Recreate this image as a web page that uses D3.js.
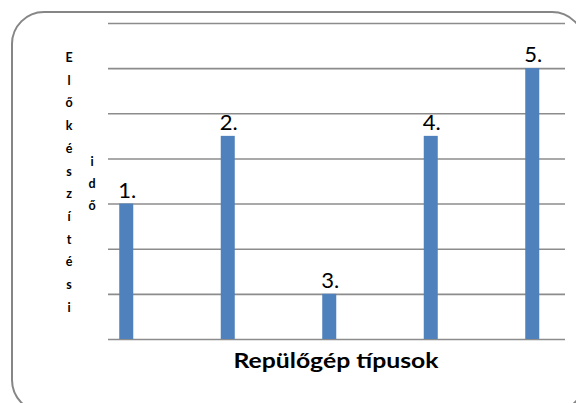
<!DOCTYPE html>
<html><head><meta charset="utf-8">
<script src="https://cdn.jsdelivr.net/npm/d3@7"></script>
<style>body{margin:0;background:#fff}svg{display:block}</style>
</head><body>
<svg id="c" width="576" height="403"></svg>
<script>
const categories = ["1.", "2.", "3.", "4.", "5."];
const values = [3, 4.5, 1, 4.5, 6];
const yTicks = [0, 1, 2, 3, 4, 5, 6, 7];
const yTitleCol1 = "Előkészítési";
const yTitleCol2 = "idő";
const xTitle = "Repülőgép típusok";

const svg = d3.select("#c");
svg.append("rect").attr("x", 12).attr("y", 12).attr("width", 572).attr("height", 400)
  .attr("rx", 32).attr("ry", 32).attr("fill", "#fff").attr("stroke", "#868686").attr("stroke-width", 2);

const gridLeft = 108, gridRight = 565;
const y = d3.scaleLinear().domain([0, 7]).range([339, 23]);
const x = d3.scaleBand().domain(categories).range([75.5, 583]).paddingInner(0.862).paddingOuter(0.431);

const ga = svg.append("g").attr("transform", `translate(${gridLeft},0)`)
  .call(d3.axisLeft(y).tickValues(yTicks).tickSize(-(gridRight - gridLeft)).tickFormat(""));
ga.select(".domain").remove();
ga.selectAll(".tick line").attr("stroke", "#8c8c8c").attr("stroke-width", 1.6);

svg.append("g").selectAll("rect").data(values).join("rect")
  .attr("x", (d, i) => x(categories[i]))
  .attr("width", x.bandwidth())
  .attr("y", d => y(d)).attr("height", d => y(0) - y(d))
  .attr("fill", "#4F81BD");

svg.append("g").selectAll("text").data(values).join("text")
  .attr("x", (d, i) => x(categories[i]) + x.bandwidth() / 2 + 1)
  .attr("y", d => y(d) - 6)
  .attr("text-anchor", "middle")
  .attr("font-family", "Lato, 'Liberation Sans', sans-serif")
  .attr("font-size", 22)
  .attr("fill", "#000")
  .text((d, i) => categories[i]);

svg.append("g").selectAll("text").data(Array.from(yTitleCol1)).join("text")
  .attr("x", 69).attr("y", (d, i) => 62 + i * 22.7)
  .attr("text-anchor", "middle")
  .attr("font-family", "Lato, 'Liberation Sans', sans-serif")
  .attr("font-weight", "bold").attr("font-size", 12.5).text(d => d);
svg.append("g").selectAll("text").data(Array.from(yTitleCol2)).join("text")
  .attr("x", 92).attr("y", (d, i) => 166 + i * 22)
  .attr("text-anchor", "middle")
  .attr("font-family", "Lato, 'Liberation Sans', sans-serif")
  .attr("font-weight", "bold").attr("font-size", 12.5).text(d => d);

svg.append("text").attr("x", 336).attr("y", 368).attr("text-anchor", "middle")
  .attr("font-family", "Lato, 'Liberation Sans', sans-serif")
  .attr("font-weight", "bold").attr("font-size", 21)
  .attr("textLength", 205).attr("lengthAdjust", "spacingAndGlyphs")
  .attr("fill", "#000").text(xTitle);
</script>
</body></html>
